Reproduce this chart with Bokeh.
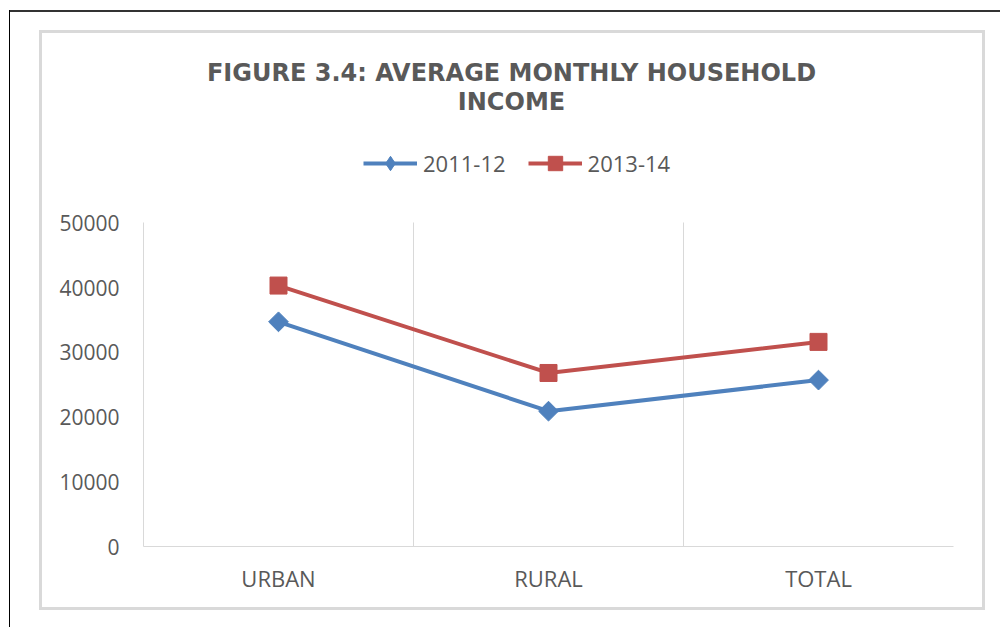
from bokeh.plotting import figure
from bokeh.models import (FactorRange, Range1d, FixedTicker, NumeralTickFormatter,
                          Legend, LegendItem, Label)
from bokeh.embed import file_html
from bokeh.resources import INLINE

# ---- data ----
categories = ["URBAN", "RURAL", "TOTAL"]
series_names = ["2011-12", "2013-14"]
values_2011_12 = [34700, 20900, 25700]
values_2013_14 = [40300, 26800, 31600]
y_ticks = [0, 10000, 20000, 30000, 40000, 50000]
title_lines = ["FIGURE 3.4: AVERAGE MONTHLY HOUSEHOLD", "INCOME"]

GRAY_TXT = "#595959"
GRID = "#d9d9d9"
BLUE = "#4F81BD"
RED = "#C0504D"

# frame extends up over the title/legend area so they are not clipped;
# axis and grid are bounded to 0..50000
p = figure(width=1000, height=627,
           x_range=FactorRange(*categories), y_range=Range1d(0, 80000),
           output_backend="svg", toolbar_location=None,
           min_border_left=143, min_border_right=47,
           min_border_top=28, min_border_bottom=81)
p.title.visible = False
p.outline_line_color = None
p.background_fill_alpha = 0
p.border_fill_alpha = 0

# page frame + chart border drawn as host background
bg = ", ".join([
    "linear-gradient(#000,#000) 9px 10px / 1px 100% no-repeat",
    "linear-gradient(#333,#333) 9px 10px / 100% 2px no-repeat",
    f"linear-gradient({GRID},{GRID}) 39px 30px / 946px 3px no-repeat",
    f"linear-gradient({GRID},{GRID}) 39px 607px / 946px 3px no-repeat",
    f"linear-gradient({GRID},{GRID}) 39px 30px / 3px 580px no-repeat",
    f"linear-gradient({GRID},{GRID}) 982px 30px / 3px 580px no-repeat",
    "#ffffff",
])
p.styles = {"background": bg}

# axes
p.yaxis.ticker = FixedTicker(ticks=y_ticks)
p.yaxis.formatter = NumeralTickFormatter(format="0")
p.yaxis.bounds = (0, 50000)
for ax in (p.xaxis[0], p.yaxis[0]):
    ax.axis_line_color = GRID
    ax.axis_line_width = 1
    ax.major_tick_line_color = None
    ax.minor_tick_line_color = None
    ax.major_label_text_color = GRAY_TXT
    ax.major_label_text_font = "Open Sans"
p.yaxis.major_label_text_font_size = "21px"
p.xaxis.major_label_text_font_size = "22px"
p.yaxis.major_label_standoff = 18
p.xaxis.major_label_standoff = 10

# grid
p.ygrid.grid_line_color = None
p.xgrid.ticker = FixedTicker(ticks=[1, 2, 3])
p.xgrid.cross_bounds = (0, 50000)
p.xgrid.grid_line_color = GRID
p.xgrid.grid_line_width = 1

# series
l1 = p.line(categories, values_2011_12, line_color=BLUE, line_width=4)
# diamond swatch for the legend (hidden beneath the rotated-square markers)
d1 = p.scatter(categories, values_2011_12, marker="diamond", size=12,
               fill_color=BLUE, line_color=BLUE)
s1 = p.scatter(categories, values_2011_12, marker="square", angle=0.785398,
               size=14, fill_color=BLUE, line_color=BLUE)
l2 = p.line(categories, values_2013_14, line_color=RED, line_width=4)
s2 = p.scatter(categories, values_2013_14, marker="square", size=17,
               fill_color=RED, line_color=RED)

legend = Legend(items=[LegendItem(label=series_names[0], renderers=[l1, d1]),
                       LegendItem(label=series_names[1], renderers=[l2, s2])],
                orientation="horizontal", location=(220, 365),
                padding=0, margin=0,
                glyph_width=54, glyph_height=36, label_standoff=6, spacing=22,
                label_text_font="Open Sans", label_text_font_size="22px",
                label_text_color=GRAY_TXT, border_line_color=None,
                background_fill_alpha=0)
p.add_layout(legend, "center")

# title lines
for i, t in enumerate(title_lines):
    p.add_layout(Label(x=368, y=474 - i * 29, x_units="screen", y_units="screen",
                       text=t, text_align="center", text_baseline="middle",
                       text_font="DejaVu Sans", text_font_style="bold",
                       text_font_size="24px", text_color=GRAY_TXT))

open("out.html", "w").write(file_html(p, INLINE))
